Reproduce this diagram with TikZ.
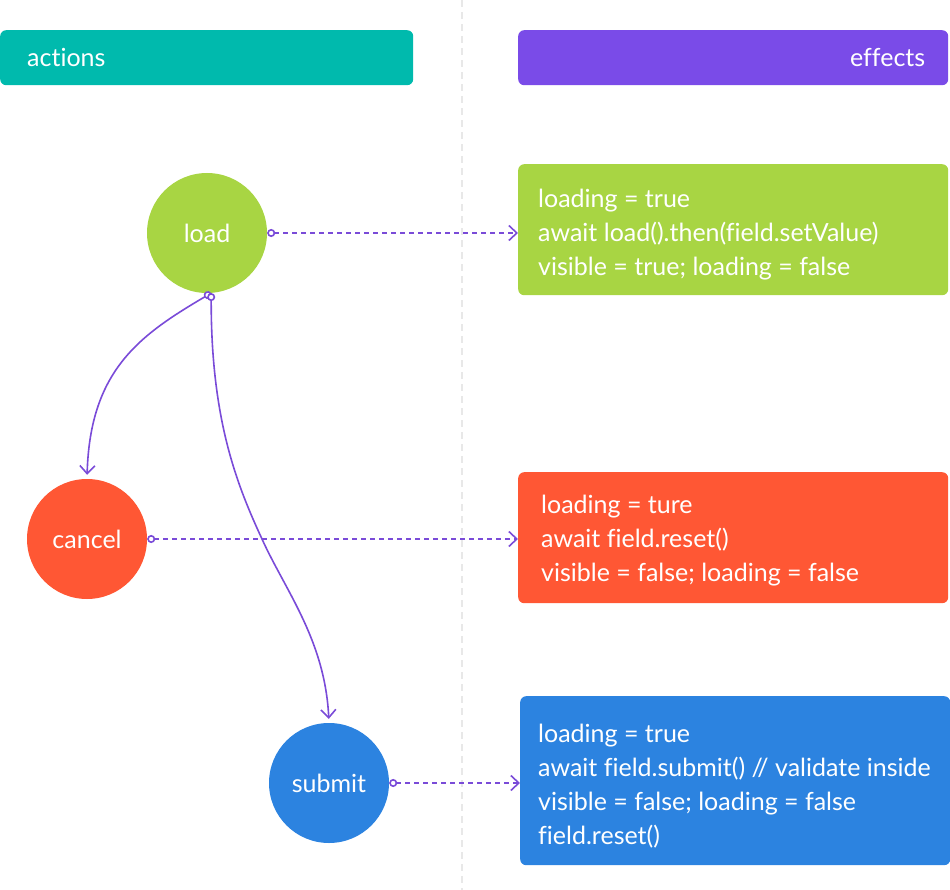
\documentclass[tikz,border=0pt]{standalone}
\usepackage{fontspec}
\setmainfont{Lato}[Ligatures=NoCommon]
\usetikzlibrary{positioning, arrows.meta, calc}

\definecolor{actteal}{HTML}{00BAAD}
\definecolor{fxpurple}{HTML}{7A4BE8}
\definecolor{loadgreen}{HTML}{A8D543}
\definecolor{cancelred}{HTML}{FF5734}
\definecolor{submitblue}{HTML}{2C83E0}
\definecolor{linkpurple}{HTML}{7A4BD8}
\definecolor{splitgray}{HTML}{E8E8E8}

\tikzset{
    action/.style={circle, minimum size=120pt, inner sep=0pt, text=white,
        font=\fontsize{25}{28}\selectfont},
    header/.style={rounded corners=6pt, minimum height=55pt, inner ysep=0pt,
        text=white, font=\fontsize{25}{28}\selectfont, anchor=north west},
    effectbox/.style={rounded corners=6pt, minimum width=430pt, anchor=north west},
    code/.style={text=white, align=left, inner sep=0pt, anchor=west,
        font=\fontsize{25}{34}\selectfont},
    trigger/.style={draw=linkpurple, line width=1.6pt, dash pattern=on 5pt off 4pt,
        {Circle[open, fill=white, length=8pt, line width=1.6pt]}-{Straight Barb[length=8pt, width=15pt]}},
    flow/.style={draw=linkpurple, line width=1.6pt, shorten >=4pt,
        {Circle[open, fill=white, length=8pt]}-{Straight Barb[length=8pt, width=15pt]}}
}

\begin{document}
\begin{tikzpicture}[x=1pt, y=-1pt]
    \useasboundingbox (0,0) rectangle (950,890);

    % Split between the two columns
    \coordinate (top) at (462,0);
    \coordinate (bottom) at (462,890);
    \draw[splitgray, line width=1.5pt, dash pattern=on 7pt off 5pt] (top) -- (bottom);

    % Headers
    \node[header, fill=actteal, text width=359pt, inner xsep=27pt, align=left]
        (actions) at (0,30) {actions};
    \node[header, fill=fxpurple, text width=384pt, inner xsep=23pt, align=right]
        (effects) at (518,30) {effects};

    % Actions
    \node[action, fill=loadgreen] (load) at (207,233) {load};
    \node[action, fill=cancelred] (cancel) at (87,539) {cancel};
    \node[action, fill=submitblue] (submit) at (329,783) {submit};

    % Effects
    \node[effectbox, fill=loadgreen, minimum height=131pt] (loadfx) at (518,164) {};
    \node[effectbox, fill=cancelred, minimum height=131pt] (cancelfx) at (518,472) {};
    \node[effectbox, fill=submitblue, minimum height=169pt] (submitfx) at (520,696) {};

    \node[code] (loadcode) at ($(load -| loadfx.west)+(20,2)$)
        {loading = true\\ await load().then(field.setValue)\\ visible = true; loading = false};
    \node[code] (cancelcode) at ($(cancel -| cancelfx.west)+(23,2)$)
        {loading = ture\\ await field.reset()\\ visible = false; loading = false};
    \node[code] (submitcode) at ($(submit -| submitfx.west)+(18,3)$)
        {loading = true\\ await field.submit() // validate inside\\ visible = false; loading = false\\ field.reset()};

    % Triggers
    \draw[trigger] (load.east) -- (load.east -| loadfx.west);
    \draw[trigger] (cancel.east) -- (cancel.east -| cancelfx.west);
    \draw[trigger] (submit.east) -- (submit.east -| submitfx.west);

    % Flow between actions
    \coordinate (turn) at (262,539);
    \draw[flow] (load.-86) .. controls (140,335) and (90,370) .. (cancel.north);
    \draw[flow] (load.-86) .. controls (211,420) and (237,485) .. (turn)
        .. controls (285,590) and (325,640) .. (submit.north);
\end{tikzpicture}
\end{document}
